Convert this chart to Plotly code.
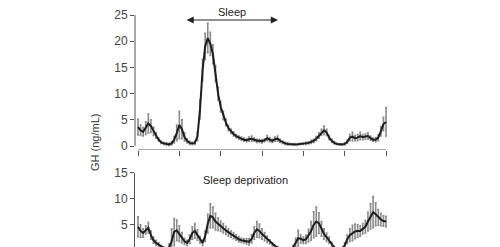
import plotly.graph_objects as go

hours = [i * 0.25 for i in range(97)]

sleep_gh = [3.6, 3.0, 2.7, 3.4, 4.3, 3.8, 2.8, 2.0,
            1.2, 0.7, 0.5, 0.4, 0.3, 0.5, 1.2, 2.5,
            4.0, 3.2, 1.7, 1.0, 0.6, 0.5, 0.6, 1.8,
            7.0, 14.5, 19.0, 20.6, 19.5, 17.5, 13.8, 10.0,
            7.5, 5.8, 4.5, 3.4, 2.8, 2.3, 1.9, 1.6,
            1.4, 1.2, 1.1, 1.3, 1.4, 1.2, 1.0, 1.0,
            0.9, 1.1, 1.5, 1.2, 1.0, 1.3, 1.4, 1.0,
            0.7, 0.5, 0.4, 0.35, 0.3, 0.3, 0.35, 0.4,
            0.4, 0.5, 0.6, 0.8, 1.0, 1.4, 2.0, 2.6,
            3.0, 2.6, 1.6, 1.0, 0.6, 0.4, 0.3, 0.3,
            0.4, 0.8, 1.6, 1.8, 1.5, 1.6, 1.9, 1.7,
            1.8, 1.9, 1.5, 1.2, 1.2, 1.6, 2.8, 4.2,
            4.6]
sleep_err = [1.5, 1.0, 0.8, 1.2, 1.8, 1.2, 0.8, 0.5,
             0.3, 0.2, 0.2, 0.2, 0.2, 0.3, 0.6, 1.5,
             2.6, 1.8, 0.8, 0.4, 0.3, 0.2, 0.3, 0.8,
             1.8, 2.0, 2.5, 2.8, 2.2, 1.8, 1.5, 1.2,
             1.0, 0.8, 0.6, 0.5, 0.4, 0.4, 0.3, 0.3,
             0.3, 0.3, 0.3, 0.4, 0.5, 0.3, 0.3, 0.3,
             0.3, 0.3, 0.5, 0.4, 0.3, 0.4, 0.5, 0.3,
             0.2, 0.2, 0.2, 0.1, 0.1, 0.1, 0.1, 0.1,
             0.1, 0.2, 0.2, 0.3, 0.3, 0.4, 0.5, 0.6,
             0.8, 0.6, 0.4, 0.3, 0.2, 0.1, 0.1, 0.1,
             0.2, 0.3, 0.6, 0.8, 0.5, 0.6, 0.7, 0.5,
             0.5, 0.6, 0.4, 0.3, 0.4, 0.6, 0.9, 1.3,
             2.7]

depr_gh = [4.6, 3.8, 3.4, 4.0, 4.4, 3.0, 2.0, 1.5,
           1.1, 0.7, 0.5, 0.4, 0.5, 1.8, 3.6, 3.9,
           3.3, 2.5, 1.8, 1.5, 2.2, 3.4, 3.8, 3.0,
           2.1, 1.5, 2.8, 5.2, 6.7, 6.4, 5.6, 5.1,
           4.7, 4.3, 3.9, 3.5, 3.2, 2.9, 2.5, 2.2,
           2.0, 1.9, 1.8, 1.7, 2.3, 3.4, 4.1, 3.8,
           3.2, 2.7, 2.2, 1.7, 1.2, 0.9, 0.6, 0.4,
           0.3, 0.3, 0.3, 0.4, 0.6, 1.4, 2.4, 2.3,
           2.0, 2.2, 2.9, 3.8, 5.0, 5.6, 5.3, 4.2,
           3.2, 2.6, 2.0, 1.2, 0.6, 0.3, 0.3, 0.4,
           1.0, 2.2, 3.0, 3.4, 3.7, 3.8, 3.8, 4.2,
           4.6, 5.6, 6.6, 7.4, 7.0, 6.4, 6.0, 5.7,
           5.6]
depr_err = [1.9, 1.2, 0.8, 0.8, 1.0, 0.8, 0.6, 0.5,
            0.4, 0.3, 0.2, 0.2, 0.8, 2.4, 2.6, 2.0,
            1.5, 1.0, 0.6, 0.5, 0.8, 1.2, 1.4, 1.0,
            0.6, 0.5, 1.0, 1.8, 2.3, 2.0, 1.6, 1.2,
            1.0, 0.9, 0.8, 0.7, 0.6, 0.6, 0.5, 0.5,
            0.4, 0.4, 0.5, 0.6, 0.8, 1.2, 1.5, 1.3,
            1.0, 0.8, 0.6, 0.4, 0.3, 0.2, 0.2, 0.1,
            0.1, 0.1, 0.1, 0.2, 0.4, 1.0, 1.5, 0.8,
            0.6, 0.8, 1.2, 1.8, 2.5, 2.8, 2.0, 1.4,
            1.0, 0.8, 0.6, 0.4, 0.2, 0.1, 0.1, 0.2,
            0.5, 0.8, 1.2, 1.5, 1.4, 1.2, 1.0, 1.0,
            1.2, 1.8, 2.4, 3.0, 2.2, 1.5, 1.2, 1.0,
            1.0]

top_yticks = [0, 5, 10, 15, 20, 25]
bottom_yticks = [5, 10, 15]
xticks = [0, 4, 8, 12, 16, 20, 24]

W, H = 500, 247
LINE = "#1e1e1e"
ERR = "#8a8a8a"
AX = "#555555"
FONT = "Liberation Sans, Arial, sans-serif"

fig = go.Figure()
fig.add_trace(go.Scatter(
    x=hours, y=sleep_gh, mode="lines", xaxis="x", yaxis="y",
    line=dict(color=LINE, width=2),
    error_y=dict(type="data", array=sleep_err, visible=True, color=ERR, thickness=1.6, width=1),
    showlegend=False, cliponaxis=True))
fig.add_trace(go.Scatter(
    x=hours, y=depr_gh, mode="lines", xaxis="x2", yaxis="y2",
    line=dict(color=LINE, width=2),
    error_y=dict(type="data", array=depr_err, visible=True, color=ERR, thickness=1.6, width=1),
    showlegend=False, cliponaxis=True))

xdom = [135 / W, 388 / W]
xrange = [-0.29, 24.19]
top_dom = [1 - 150 / H, 1 - 15 / H]
top_range = [-0.76, 25]
bot_dom = [0, 1 - 172.7 / H]
bot_range = [0.71, 15]

tickfont = dict(family=FONT, size=12, color="#444444")

fig.update_layout(
    width=W, height=H,
    margin=dict(l=0, r=0, t=0, b=0, pad=0, autoexpand=False),
    paper_bgcolor="white", plot_bgcolor="white",
    xaxis=dict(domain=xdom, range=xrange, anchor="y", tickvals=xticks, showticklabels=False,
               ticks="outside", ticklen=5, tickcolor=AX, tickwidth=1, showgrid=False,
               zeroline=False, showline=False, automargin=False),
    yaxis=dict(domain=top_dom, range=top_range, anchor="x", tickvals=top_yticks,
               ticks="outside", ticklen=4, tickcolor=AX, tickwidth=1, tickfont=tickfont,
               showgrid=False, zeroline=False, showline=False, automargin=False),
    xaxis2=dict(domain=xdom, range=xrange, anchor="y2", showticklabels=False, ticks="",
                showgrid=False, zeroline=False, showline=False, automargin=False),
    yaxis2=dict(domain=bot_dom, range=bot_range, anchor="x2", tickvals=bottom_yticks,
                ticks="outside", ticklen=4, tickcolor=AX, tickwidth=1, tickfont=tickfont,
                showgrid=False, zeroline=False, showline=True, linecolor=AX, linewidth=1,
                automargin=False),
)

# detached axis lines for the top panel
fig.add_shape(type="line", xref="x", yref="y", x0=0, x1=24, y0=-0.76, y1=-0.76,
              line=dict(color=AX, width=1))
fig.add_shape(type="line", xref="paper", yref="y", x0=xdom[0], x1=xdom[0], y0=0, y1=25,
              line=dict(color=AX, width=1))

fig.add_annotation(text="GH (ng/mL)", xref="paper", yref="paper", x=95 / W, y=1 - 143 / H,
                   xanchor="center", yanchor="middle",
                   textangle=-90, showarrow=False,
                   font=dict(family=FONT, size=11, color="#333333"))
fig.add_annotation(text="Sleep", xref="paper", yref="paper", x=232 / W, y=1 - 12 / H,
                   xanchor="center", yanchor="middle",
                   showarrow=False, font=dict(family=FONT, size=11, color="#222222"))
fig.add_annotation(text="", xref="x", yref="y", axref="x", ayref="y",
                   x=13.55, y=24.05, ax=4.55, ay=24.05, showarrow=True,
                   arrowhead=2, arrowside="end+start", arrowsize=1.2, arrowwidth=1.2,
                   arrowcolor="#222222")
fig.add_annotation(text="Sleep deprivation", xref="paper", yref="paper", x=245 / W, y=1 - 180 / H,
                   xanchor="center", yanchor="middle",
                   showarrow=False, font=dict(family=FONT, size=11, color="#222222"))

fig.write_html("out.html")
